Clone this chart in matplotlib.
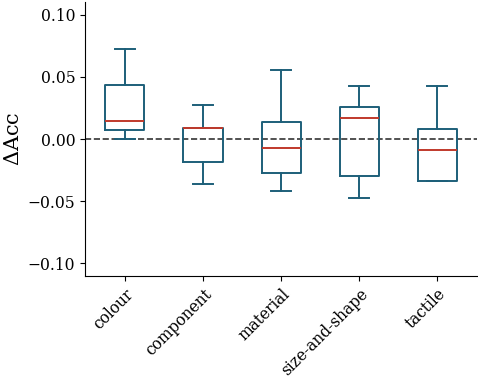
import matplotlib
matplotlib.use("Agg")
import matplotlib.pyplot as plt

# categories and box stats
categories = ["colour", "component", "material", "size-and-shape", "tactile"]
whislo = [0.0, -0.0365, -0.0416, -0.0472, -0.0341]
q1 = [0.0072, -0.0184, -0.0275, -0.0299, -0.0341]
med = [0.0147, 0.0090, -0.0069, 0.0168, -0.0085]
q3 = [0.0432, 0.0090, 0.0136, 0.0256, 0.0085]
whishi = [0.0722, 0.0275, 0.0555, 0.0427, 0.0427]

plt.rcParams["font.family"] = "DejaVu Serif"
plt.rcParams["mathtext.fontset"] = "dejavuserif"

box_col = "#1d5f79"
med_col = "#c0392b"

stats = []
for i in range(len(categories)):
	stats.append({"label": categories[i], "whislo": whislo[i], "q1": q1[i],
		"med": med[i], "q3": q3[i], "whishi": whishi[i], "fliers": []})

fig = plt.figure(figsize=(4.78, 3.8), dpi=100)
ax = fig.add_axes([0.178, 0.274, 0.82, 0.72])

ax.bxp(stats, positions=range(len(categories)), widths=0.5, showfliers=False,
	boxprops=dict(color=box_col, linewidth=1.4),
	whiskerprops=dict(color=box_col, linewidth=1.4),
	capprops=dict(color=box_col, linewidth=1.4),
	medianprops=dict(color=med_col, linewidth=1.4))

ax.axhline(0, color="#333333", linestyle="--", linewidth=1.2, zorder=0)

ax.set_xlim(-0.51, 4.51)
ax.set_ylim(-0.11, 0.11)
ax.set_yticks([-0.10, -0.05, 0.0, 0.05, 0.10])
ax.set_xticks(range(len(categories)))
ax.set_xticklabels(categories, rotation=45, ha="right", rotation_mode="anchor")
ax.tick_params(labelsize=11.2)
ax.set_ylabel(r"$\Delta$Acc", fontsize=15, labelpad=3)
ax.spines["top"].set_visible(False)
ax.spines["right"].set_visible(False)

plt.savefig("out.png")
